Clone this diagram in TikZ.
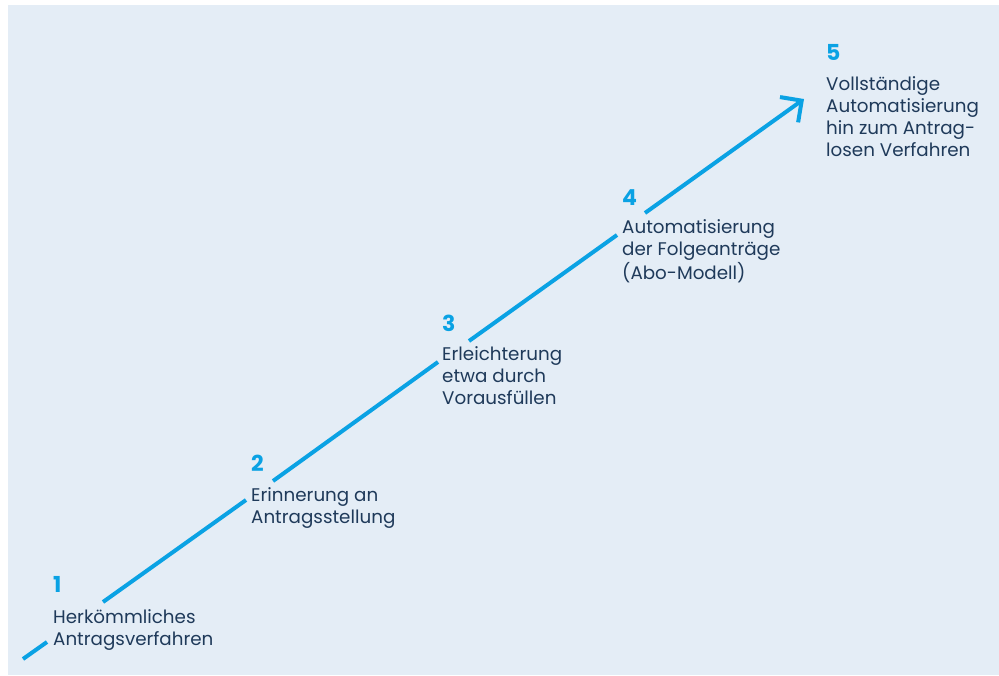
\documentclass[tikz,border=0pt]{standalone}
\usepackage{fontspec}
\setmainfont{Poppins}
\usetikzlibrary{arrows.meta}
\definecolor{bgblue}{HTML}{E4EDF6}
\definecolor{linecyan}{HTML}{0AA2E4}
\definecolor{textnavy}{HTML}{1F3A5A}
\tikzset{
  stepline/.style={draw=linecyan, line width=4pt, line cap=butt},
  stepnum/.style={anchor=base west, inner sep=0pt, text=linecyan, font=\fontsize{22}{22}\selectfont\bfseries},
  steptext/.style={anchor=base west, inner sep=0pt, text=textnavy, align=left, font=\fontsize{18.3}{22}\selectfont},
}
\begin{document}
\begin{tikzpicture}[x=1pt,y=-1pt]
\useasboundingbox (0,0) rectangle (999,675);
\fill[bgblue] (8,5) rectangle (999,675);
% step labels (text nodes anchored at the baseline of their last line)
\node[stepnum] (n1) at (53,592) {1};
\node[steptext] (t1) at (53,645) {Herkömmliches\\Antragsverfahren};
\node[stepnum] (n2) at (251,471) {2};
\node[steptext] (t2) at (251,523) {Erinnerung an\\Antragsstellung};
\node[stepnum] (n3) at (442,331) {3};
\node[steptext] (t3) at (442,404) {Erleichterung\\etwa durch\\Vorausfüllen};
\node[stepnum] (n4) at (622,205) {4};
\node[steptext] (t4) at (622,279) {Automatisierung\\der Folgeanträge\\(Abo-Modell)};
\node[stepnum] (n5) at (826,60) {5};
\node[steptext] (t5) at (826,156) {Vollständige\\Automatisierung\\hin zum Antrag-\\losen Verfahren};
% line segments
\coordinate (s0) at (23,659);  \coordinate (e0) at (47,642);
\coordinate (s1) at (103,602); \coordinate (e1) at (246,500);
\coordinate (s2) at (273,481); \coordinate (e2) at (438,362);
\coordinate (s3) at (469,341); \coordinate (e3) at (617,235);
\coordinate (s4) at (645,213); \coordinate (tip) at (804,99);
\draw[stepline] (s0) -- (e0);
\draw[stepline] (s1) -- (e1);
\draw[stepline] (s2) -- (e2);
\draw[stepline] (s3) -- (e3);
\draw[stepline, -{Straight Barb[angle=90:22pt]}] (s4) -- (tip);
\end{tikzpicture}
\end{document}
